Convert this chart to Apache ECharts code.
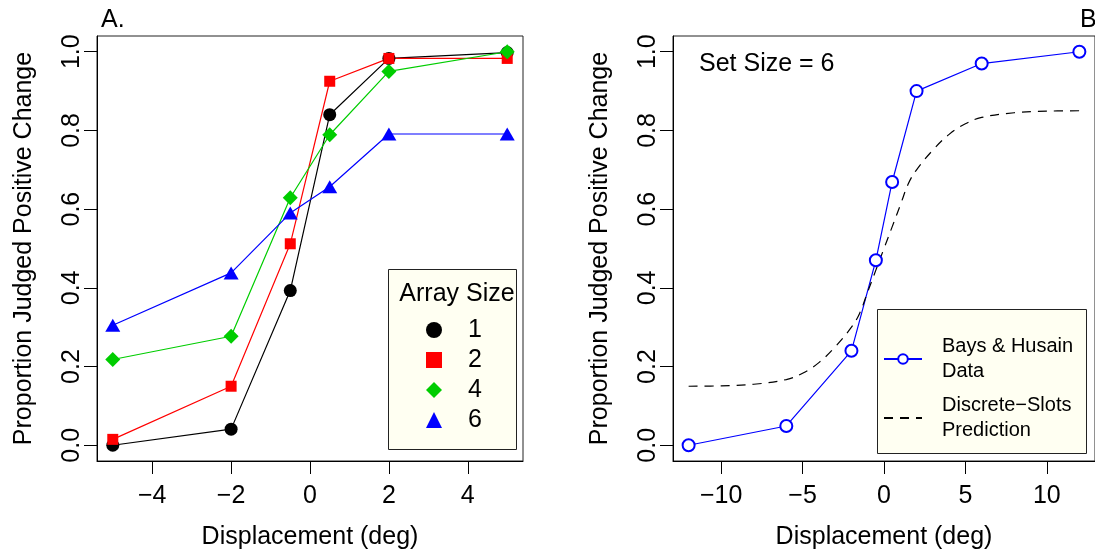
<!DOCTYPE html>
<html>
<head>
<meta charset="utf-8">
<script src="https://cdn.jsdelivr.net/npm/echarts@6/dist/echarts.min.js"></script>
<style>
  html, body { margin: 0; padding: 0; background: #fff; }
  #main { width: 1095px; height: 555px; }
</style>
</head>
<body>
<div id="main"></div>
<script>
// panel A: proportion judged positive, by array size
const xLeft = [-5, -2, -0.5, 0.5, 2, 5];
const size1 = [0.0, 0.041, 0.393, 0.840, 0.983, 0.998];
const size2 = [0.015, 0.150, 0.512, 0.925, 0.983, 0.983];
const size4 = [0.218, 0.277, 0.629, 0.789, 0.950, 1.0];
const size6 = [0.305, 0.438, 0.590, 0.657, 0.791, 0.791];

// panel B: set size 6, data vs prediction
const xRight = [-12, -6, -2, -0.5, 0.5, 2, 6, 12];
const baysData = [0.0, 0.049, 0.240, 0.470, 0.669, 0.900, 0.970, 1.0];
const slotsX = [-12, -10, -8, -6, -5, -4, -3, -2, -1.5, -1, -0.5, 0, 0.5, 1, 1.5, 2, 3, 4, 5, 6, 8, 10, 12];
const slotsY = [0.150, 0.151, 0.155, 0.167, 0.183, 0.210, 0.250, 0.300, 0.335, 0.390, 0.445, 0.500,
                0.555, 0.610, 0.665, 0.700, 0.750, 0.790, 0.817, 0.833, 0.845, 0.849, 0.850];

const yTicks = [0, 0.2, 0.4, 0.6, 0.8, 1.0];
const xTicksLeft = [-4, -2, 0, 2, 4];
const xTicksRight = [-10, -5, 0, 5, 10];

const FONT = 'Liberation Sans';
const zip = (xs, ys) => xs.map((x, i) => [x, ys[i]]);
const minus = v => String(v).replace('-', '\u2212');

const myChart = echarts.init(document.getElementById('main'));

function xAx(gi, min, max, ticks) {
  return {
    type: 'value', gridIndex: gi, min: min, max: max,
    name: 'Displacement (deg)', nameLocation: 'middle', nameGap: 64,
    nameTextStyle: { fontFamily: FONT, fontSize: 25, color: '#000' },
    axisLine: { show: true, onZero: false, lineStyle: { color: '#000', width: 1 } },
    axisTick: { show: true, length: 13, customValues: ticks, lineStyle: { color: '#000' } },
    axisLabel: { customValues: ticks, formatter: minus, margin: 23,
      fontFamily: FONT, fontSize: 25, color: '#000' },
    splitLine: { show: false }
  };
}
function yAx(gi) {
  return {
    type: 'value', gridIndex: gi, min: -0.04, max: 1.04,
    name: 'Proportion Judged Positive Change', nameLocation: 'middle', nameGap: 60,
    nameRotate: 90,
    nameTextStyle: { fontFamily: FONT, fontSize: 25, color: '#000' },
    axisLine: { show: true, onZero: false, lineStyle: { color: '#000', width: 1 } },
    axisTick: { show: true, length: 13, customValues: yTicks, lineStyle: { color: '#000' } },
    axisLabel: { customValues: yTicks, rotate: 90, margin: 12,
      formatter: v => v.toFixed(1), fontFamily: FONT, fontSize: 25, color: '#000' },
    splitLine: { show: false }
  };
}
function pts(name, data, color, symbol, size) {
  return {
    name: name, type: 'line', xAxisIndex: 0, yAxisIndex: 0, data: data,
    symbol: symbol, symbolSize: size, showSymbol: true,
    lineStyle: { color: color, width: 1.2 },
    itemStyle: { color: color, borderWidth: 0 },
    emphasis: { disabled: true }
  };
}

const option = {
  animation: false,
  textStyle: { fontFamily: FONT },
  grid: [
    { left: 97, top: 36, width: 426, height: 427, show: true, borderColor: '#222', borderWidth: 1 },
    { left: 673, top: 36, width: 425, height: 427, show: true, borderColor: '#222', borderWidth: 1 }
  ],
  xAxis: [xAx(0, -5.4, 5.4, xTicksLeft), xAx(1, -12.96, 12.96, xTicksRight)],
  yAxis: [yAx(0), yAx(1)],
  title: [
    { text: 'A.', left: 96, top: 3, textStyle: { fontFamily: FONT, fontSize: 25, fontWeight: 'normal', color: '#000' } },
    { text: 'B.', left: 1075, top: 3, textStyle: { fontFamily: FONT, fontSize: 25, fontWeight: 'normal', color: '#000' } },
    { text: 'Set Size = 6', left: 694, top: 47, textStyle: { fontFamily: FONT, fontSize: 25, fontWeight: 'normal', color: '#000' } },
    { text: 'Array Size', left: 452, textAlign: 'center', top: 277, z: 8,
      textStyle: { fontFamily: FONT, fontSize: 25, fontWeight: 'normal', color: '#000' } }
  ],
  graphic: [
    { type: 'rect', z: 3, shape: { x: 388.5, y: 269.5, width: 128, height: 180 },
      style: { fill: '#FFFFF2', stroke: '#222', lineWidth: 1 } },
    { type: 'rect', z: 3, shape: { x: 877.5, y: 309.5, width: 209, height: 144 },
      style: { fill: '#FFFFF2', stroke: '#222', lineWidth: 1 } }
  ],
  legend: [
    {
      left: 426, top: 315, orient: 'vertical', padding: 0, itemGap: 0, z: 8,
      itemWidth: 16, itemHeight: 16, selectedMode: false,
      data: [
        { name: '1', icon: 'circle' },
        { name: '2', icon: 'rect' },
        { name: '4', icon: 'diamond' },
        { name: '6', icon: 'triangle' }
      ],
      textStyle: { fontFamily: FONT, fontSize: 25, lineHeight: 30, color: '#000', padding: [0, 0, 0, 21] }
    },
    {
      left: 883, top: 334, orient: 'vertical', padding: 0, itemGap: 9, z: 8,
      itemWidth: 38, itemHeight: 12, selectedMode: false,
      data: [
        'Bays & Husain\nData',
        { name: 'Discrete\u2212Slots\nPrediction', itemStyle: { opacity: 0 } }
      ],
      textStyle: { fontFamily: FONT, fontSize: 20, lineHeight: 25, color: '#000', padding: [0, 0, 0, 15] }
    }
  ],
  series: [
    pts('1', zip(xLeft, size1), '#000000', 'circle', 13),
    pts('2', zip(xLeft, size2), '#FF0000', 'rect', 11),
    pts('4', zip(xLeft, size4), '#00CD00', 'diamond', 15),
    pts('6', zip(xLeft, size6), '#0000FF', 'triangle', [15, 13]),
    {
      name: 'Bays & Husain\nData', type: 'line', xAxisIndex: 1, yAxisIndex: 1,
      data: zip(xRight, baysData), symbol: 'emptyCircle', symbolSize: 12,
      lineStyle: { color: '#0000FF', width: 1.2 },
      itemStyle: { color: '#0000FF', borderColor: '#0000FF', borderWidth: 1.2 },
      emphasis: { disabled: true }
    },
    {
      name: 'Discrete\u2212Slots\nPrediction', type: 'line', xAxisIndex: 1, yAxisIndex: 1,
      data: zip(slotsX, slotsY), symbol: 'none', smooth: 0.4,
      lineStyle: { color: '#000', width: 1.2, type: [9, 7] },
      itemStyle: { color: '#000' },
      emphasis: { disabled: true }
    }
  ]
};
option && myChart.setOption(option);
</script>
</body>
</html>
